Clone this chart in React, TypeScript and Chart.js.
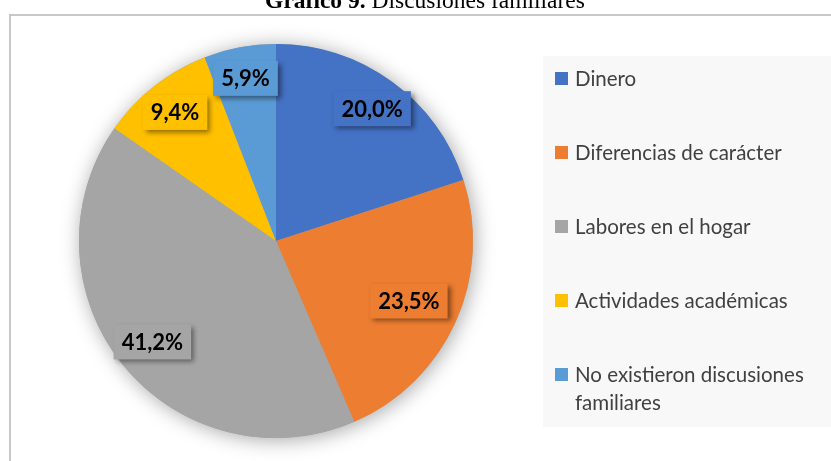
import React, { useEffect, useRef } from "react";
import { Chart, registerables } from "chart.js";

Chart.register(...registerables);

const categories = [
  "Dinero",
  "Diferencias de carácter",
  "Labores en el hogar",
  "Actividades académicas",
  "No existieron discusiones familiares",
];
const values = [20.0, 23.5, 41.2, 9.4, 5.9];
const sliceColors = ["#4472C4", "#ED7D31", "#A5A5A5", "#FFC000", "#5B9BD5"];
const titleBold = "Gráfico 9.";
const titleRest = " Discusiones familiares";

const W = 831;
const H = 461;

const fmt = (v: number) => v.toFixed(1).replace(".", ",") + "%";

function wrap(ctx: CanvasRenderingContext2D, text: string, maxW: number): string[] {
  const words = text.split(" ");
  const lines: string[] = [];
  let cur = "";
  for (const w of words) {
    const t = cur ? cur + " " + w : w;
    if (ctx.measureText(t).width > maxW && cur) {
      lines.push(cur);
      cur = w;
    } else cur = t;
  }
  if (cur) lines.push(cur);
  return lines;
}

const decorPlugin = {
  id: "decor",
  beforeDraw(chart: any) {
    const ctx: CanvasRenderingContext2D = chart.ctx;
    ctx.save();
    ctx.fillStyle = "#ffffff";
    ctx.fillRect(0, 0, W, H);
    // title
    ctx.fillStyle = "#000";
    ctx.textBaseline = "alphabetic";
    ctx.textAlign = "left";
    const fb = 'bold 23.5px "Liberation Serif", "Times New Roman", serif';
    const fr = '23.5px "Liberation Serif", "Times New Roman", serif';
    ctx.font = fb;
    const wb = ctx.measureText(titleBold).width;
    ctx.font = fr;
    const wr = ctx.measureText(titleRest).width;
    const sx = 425 - (wb + wr) / 2;
    ctx.font = fb;
    ctx.fillText(titleBold, sx, 8);
    ctx.font = fr;
    ctx.fillText(titleRest, sx + wb, 8);
    // outer border
    ctx.fillStyle = "#c8c8c8";
    ctx.fillRect(9, 14, W - 9, 2);
    ctx.fillRect(9, 14, 2, H - 14);
    // legend box
    ctx.fillStyle = "#f8f8f8";
    ctx.fillRect(543, 56, W - 543, 371);
    // legend items
    const labels: string[] = chart.data.labels;
    const cols: string[] = chart.data.datasets[0].backgroundColor;
    ctx.font = '20.5px Lato, "Open Sans", sans-serif';
    let base = 86;
    labels.forEach((lab, i) => {
      ctx.fillStyle = cols[i];
      ctx.fillRect(555, base - 14, 13, 13);
      ctx.fillStyle = "#404040";
      const lines = wrap(ctx, lab, 252);
      lines.forEach((ln, j) => ctx.fillText(ln, 575, base + j * 28));
      base += 74;
    });
    ctx.restore();
  },
  beforeDatasetsDraw(chart: any) {
    const ctx: CanvasRenderingContext2D = chart.ctx;
    const arc = chart.getDatasetMeta(0).data[0];
    if (!arc) return;
    ctx.save();
    ctx.shadowColor = "rgba(0,0,0,0.35)";
    ctx.shadowBlur = 20;
    ctx.shadowOffsetX = 2;
    ctx.shadowOffsetY = 2;
    ctx.beginPath();
    ctx.arc(arc.x, arc.y, arc.outerRadius, 0, Math.PI * 2);
    ctx.fillStyle = "#a5a5a5";
    ctx.fill();
    ctx.restore();
  },
  afterDatasetsDraw(chart: any, _args: any, opts: any) {
    const ctx: CanvasRenderingContext2D = chart.ctx;
    const meta = chart.getDatasetMeta(0);
    const data: number[] = chart.data.datasets[0].data;
    const cols: string[] = chart.data.datasets[0].backgroundColor;
    const radii: number[] = opts.labelRadii || [];
    ctx.save();
    ctx.font = 'bold 22px Lato, "Open Sans", sans-serif';
    ctx.textAlign = "center";
    ctx.textBaseline = "alphabetic";
    meta.data.forEach((arc: any, i: number) => {
      const mid = (arc.startAngle + arc.endAngle) / 2;
      const r = arc.outerRadius * (radii[i] ?? 0.82);
      const px = arc.x + Math.cos(mid) * r;
      const py = arc.y + Math.sin(mid) * r;
      const txt = fmt(data[i]);
      const tw = ctx.measureText(txt).width;
      const bw = tw + 16;
      const bh = 35;
      ctx.save();
      ctx.shadowColor = "rgba(0,0,0,0.45)";
      ctx.shadowBlur = 5;
      ctx.shadowOffsetX = 3;
      ctx.shadowOffsetY = 3;
      ctx.fillStyle = cols[i];
      ctx.fillRect(px - bw / 2, py - bh / 2, bw, bh);
      ctx.restore();
      ctx.fillStyle = "#000";
      ctx.fillText(txt, px, py + 8);
    });
    ctx.restore();
  },
};

export default function App() {
  const ref = useRef<HTMLCanvasElement | null>(null);
  useEffect(() => {
    if (!ref.current) return;
    const chart = new Chart(ref.current, {
      type: "pie",
      data: {
        labels: categories,
        datasets: [
          {
            data: values,
            backgroundColor: sliceColors,
            borderWidth: 0,
          },
        ],
      },
      options: {
        responsive: false,
        animation: false,
        devicePixelRatio: 1,
        layout: { padding: { left: 79, right: W - 473, top: 44, bottom: H - 438 } },
        plugins: {
          legend: { display: false },
          tooltip: { enabled: false },
          title: { display: false },
          decor: { labelRadii: [0.83, 0.74, 0.81, 0.83, 0.84] },
        } as any,
      },
      plugins: [decorPlugin],
    });
    return () => chart.destroy();
  }, []);
  return (
    <div style={{ position: "fixed", left: 0, top: 0, width: W, height: H, background: "#fff" }}>
      <canvas ref={ref} width={W} height={H} style={{ display: "block" }} />
    </div>
  );
}
